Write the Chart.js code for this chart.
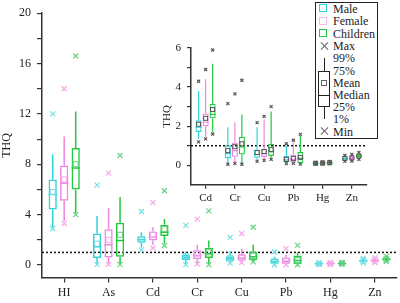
<!DOCTYPE html>
<html lang="en">
<head>
<meta charset="UTF-8">
<title>THQ box plot</title>
<script src="https://cdn.jsdelivr.net/npm/chart.js"></script>
<style>
  body { margin: 0; background: #fff; }
  .wrap { position: relative; width: 400px; height: 303px; overflow: hidden; font-family: "Liberation Serif", "Times New Roman", serif; }
  #mainChart { position: absolute; left: 0; top: 0; }
  #insetChart { position: absolute; left: 150px; top: 30px; }
  .legend { position: absolute; left: 315px; top: 2px; width: 61px; height: 135px; border: 1px solid #222; background: #fff; }
  .legend .txt { position: absolute; left: 17px; font-size: 12px; line-height: 12px; color: #222; white-space: nowrap; }
  .legend .sq { position: absolute; left: 3px; width: 6px; height: 6px; border: 1.5px solid; }
  .legend .cross { position: absolute; left: 4px; width: 8px; height: 8px; }
  .legend .cross::before, .legend .cross::after { content: ""; position: absolute; left: 3.5px; top: -1px; width: 1px; height: 10px; background: #666; }
  .legend .cross::before { transform: rotate(45deg); }
  .legend .cross::after { transform: rotate(-45deg); }
  .legend .whisker { position: absolute; left: 7.5px; top: 55px; width: 1.2px; height: 61px; background: #222; }
  .legend .box { position: absolute; left: 2px; top: 68px; width: 10px; height: 34px; border: 1.2px solid #222; background: #fff; }
  .legend .med { position: absolute; left: 2px; top: 92px; width: 12px; height: 1.2px; background: #222; }
  .legend .mean { position: absolute; left: 5px; top: 77px; width: 4px; height: 4px; border: 1px solid #666; }
</style>
</head>
<body>
<div class="wrap">
  <canvas id="mainChart" width="400" height="303"></canvas>
  <canvas id="insetChart" width="225" height="178"></canvas>
  <div class="legend">
    <div class="sq" style="top:1px;border-color:#2fd3d6"></div><div class="txt" style="top:0px">Male</div>
    <div class="sq" style="top:13.5px;border-color:#f2b6ea"></div><div class="txt" style="top:12px">Female</div>
    <div class="sq" style="top:26px;border-color:#22c93f"></div><div class="txt" style="top:24.5px">Children</div>
    <div class="cross" style="top:39px"></div><div class="txt" style="top:37px">Max</div>
    <div class="whisker"></div><div class="box"></div><div class="med"></div><div class="mean"></div>
    <div class="txt" style="top:49px">99%</div>
    <div class="txt" style="top:61.5px">75%</div>
    <div class="txt" style="top:73.5px">Mean</div>
    <div class="txt" style="top:86px">Median</div>
    <div class="txt" style="top:98px">25%</div>
    <div class="txt" style="top:110px">1%</div>
    <div class="cross" style="top:124px"></div><div class="txt" style="top:122.5px">Min</div>
  </div>
</div>

<script>
    const mainLabels = ['HI', 'As', 'Cd', 'Cr', 'Cu', 'Pb', 'Hg', 'Zn'];
    const insetLabels = ['Cd', 'Cr', 'Cu', 'Pb', 'Hg', 'Zn'];

    // each row: min, 1%, 25%, median, mean, 75%, 99%, max
    const mainMale = [
        [2.9, 3.0, 4.4, 5.6, 5.8, 6.8, 8.8, 12.0],
        [0.05, 0.1, 0.55, 1.45, 1.7, 2.5, 3.9, 6.35],
        [1.2, 1.4, 1.77, 2.0, 2.05, 2.28, 2.6, 4.25],
        [0.03, 0.08, 0.4, 0.6, 0.7, 0.8, 1.05, 3.15],
        [0.15, 0.2, 0.3, 0.5, 0.55, 0.7, 1.1, 2.2],
        [0.02, 0.05, 0.1, 0.25, 0.3, 0.5, 0.65, 1.05],
        [0.05, 0.06, 0.08, 0.1, 0.1, 0.13, 0.15, 0.17],
        [0.18, 0.2, 0.27, 0.33, 0.34, 0.4, 0.48, 0.52]
    ];
    const mainFemale = [
        [3.3, 3.5, 5.1, 6.5, 6.8, 7.9, 10.2, 14.0],
        [0.05, 0.1, 0.6, 1.6, 2.0, 2.85, 4.5, 7.3],
        [1.35, 1.6, 1.95, 2.2, 2.4, 2.67, 3.0, 4.95],
        [0.08, 0.15, 0.45, 0.75, 0.9, 1.18, 1.6, 3.65],
        [0.2, 0.25, 0.35, 0.55, 0.65, 0.85, 1.3, 2.5],
        [0.02, 0.05, 0.1, 0.3, 0.35, 0.6, 0.8, 1.3],
        [0.06, 0.07, 0.09, 0.11, 0.11, 0.14, 0.16, 0.18],
        [0.2, 0.22, 0.3, 0.36, 0.37, 0.43, 0.52, 0.56]
    ];
    const mainChildren = [
        [4.0, 4.1, 6.0, 7.7, 8.0, 9.3, 12.2, 16.6],
        [0.05, 0.1, 0.65, 1.95, 2.4, 3.35, 5.4, 8.7],
        [1.55, 1.7, 2.3, 2.6, 2.85, 3.2, 3.65, 5.9],
        [0.03, 0.05, 0.55, 0.9, 1.0, 1.38, 1.95, 4.3],
        [0.25, 0.3, 0.4, 0.65, 0.75, 1.05, 1.6, 3.0],
        [0.02, 0.05, 0.08, 0.35, 0.4, 0.75, 1.0, 1.56],
        [0.07, 0.08, 0.1, 0.12, 0.13, 0.16, 0.18, 0.2],
        [0.28, 0.3, 0.38, 0.45, 0.46, 0.52, 0.62, 0.68]
    ];

    const insetMale = [
        [1.2, 1.35, 1.7, 1.95, 2.1, 2.3, 3.8, 4.3],
        [0.05, 0.1, 0.37, 0.6, 0.75, 1.02, 1.95, 3.15],
        [0.2, 0.25, 0.39, 0.55, 0.65, 0.8, 1.95, 2.18],
        [0.08, 0.1, 0.17, 0.28, 0.3, 0.48, 1.0, 1.1],
        [0.06, 0.07, 0.08, 0.1, 0.1, 0.12, 0.14, 0.15],
        [0.2, 0.22, 0.28, 0.34, 0.35, 0.4, 0.48, 0.5]
    ];
    const insetFemale = [
        [1.35, 1.45, 2.0, 2.2, 2.4, 2.65, 4.4, 4.9],
        [0.1, 0.15, 0.43, 0.75, 0.95, 1.16, 2.2, 3.65],
        [0.25, 0.3, 0.42, 0.6, 0.7, 0.85, 2.35, 2.5],
        [0.1, 0.12, 0.15, 0.3, 0.35, 0.55, 1.15, 1.28],
        [0.07, 0.08, 0.09, 0.11, 0.11, 0.13, 0.15, 0.17],
        [0.22, 0.25, 0.32, 0.37, 0.38, 0.44, 0.52, 0.55]
    ];
    const insetChildren = [
        [1.6, 1.7, 2.4, 2.6, 2.85, 3.15, 5.2, 5.9],
        [0.05, 0.1, 0.55, 0.94, 1.1, 1.45, 2.6, 4.35],
        [0.3, 0.35, 0.48, 0.7, 0.8, 1.1, 2.75, 3.0],
        [0.06, 0.08, 0.1, 0.35, 0.4, 0.68, 1.5, 1.58],
        [0.08, 0.09, 0.1, 0.12, 0.13, 0.15, 0.17, 0.19],
        [0.3, 0.33, 0.4, 0.46, 0.47, 0.53, 0.62, 0.66]
    ];

    const mainYTicks = [0, 2, 4, 6, 8, 10, 12, 14, 16, 18, 20];
    const insetYTicks = [0, 1, 2, 3, 4, 5, 6];
    const limitLine = 1;

    const seriesNames = ['Male', 'Female', 'Children'];
    const lineColors = ['#2fd3d6', '#ee86e2', '#22c93f'];
    const markColors = ['#74dfe4', '#f3a9ea', '#66d184'];

    Chart.defaults.font.family = '"Liberation Serif", "Times New Roman", serif';
    Chart.defaults.color = '#222';

    // draws whiskers, median, mean and min/max for each floating bar (the box)
    const boxPlot = {
        id: 'boxPlot',
        beforeDatasetsDraw(chart, args, o) {
            const { ctx, chartArea, scales: { y } } = chart;
            const py = y.getPixelForValue(limitLine);
            ctx.save();
            ctx.setLineDash([2, 2]);
            ctx.strokeStyle = '#111';
            ctx.lineWidth = o.refWidth;
            ctx.beginPath();
            ctx.moveTo(chartArea.left, py);
            ctx.lineTo(chartArea.right, py);
            ctx.stroke();
            ctx.restore();
        },
        afterDatasetsDraw(chart, args, o) {
            const { ctx, scales: { y } } = chart;
            chart.data.datasets.forEach((ds, i) => {
                chart.getDatasetMeta(i).data.forEach((bar, j) => {
                    const [min, p1, q1, med, mean, q3, p99, max] = ds.stats[j].map(v => y.getPixelForValue(v));
                    const x = bar.x, hw = bar.width / 2;
                    ctx.save();
                    ctx.strokeStyle = ds.borderColor;
                    ctx.lineWidth = o.lineWidth;
                    ctx.beginPath();
                    ctx.moveTo(x, q3); ctx.lineTo(x, p99);
                    ctx.moveTo(x, q1); ctx.lineTo(x, p1);
                    ctx.moveTo(x - hw, med); ctx.lineTo(x + hw, med);
                    ctx.stroke();

                    ctx.strokeStyle = o.markColor || markColors[i];
                    ctx.lineWidth = 1;
                    const s = o.meanSize;
                    ctx.strokeRect(x - s / 2, mean - s / 2, s, s);

                    const r = o.crossSize;
                    ctx.lineWidth = o.crossWidth;
                    ctx.beginPath();
                    [max, min].forEach(py => {
                        ctx.moveTo(x - r, py - r); ctx.lineTo(x + r, py + r);
                        ctx.moveTo(x - r, py + r); ctx.lineTo(x + r, py - r);
                    });
                    ctx.stroke();
                    ctx.restore();
                });
            });
        }
    };

    function makeChart(id, labels, groups, cfg) {
        const datasets = groups.map((rows, i) => ({
            label: seriesNames[i],
            data: rows.map(r => [r[2], r[5]]),
            stats: rows,
            backgroundColor: 'rgba(0,0,0,0)',
            borderColor: lineColors[i],
            borderWidth: cfg.lineWidth,
            borderSkipped: false,
            categoryPercentage: cfg.catPct,
            barPercentage: cfg.barPct
        }));

        return new Chart(document.getElementById(id), {
            type: 'bar',
            data: { labels, datasets },
            options: {
                responsive: false,
                animation: false,
                events: [],
                layout: { padding: cfg.padding },
                plugins: {
                    legend: { display: false },
                    tooltip: { enabled: false },
                    boxPlot: cfg.plot
                },
                scales: {
                    x: {
                        ticks: { padding: cfg.xPad, font: { size: cfg.fontSize } },
                        grid: { offset: false, drawOnChartArea: false, tickLength: cfg.tickLen, color: '#333', lineWidth: 1.2 },
                        border: { color: '#333', width: 1.5 }
                    },
                    y: {
                        min: cfg.yMin,
                        max: cfg.yMax,
                        afterBuildTicks: s => { s.ticks = cfg.yTicks.map(v => ({ value: v })); },
                        afterFit: s => { s.width = cfg.yWidth; },
                        ticks: {
                            padding: 6,
                            font: { size: cfg.fontSize },
                            callback: v => v % cfg.labelStep === 0 ? v : ''
                        },
                        grid: { drawOnChartArea: false, tickLength: cfg.tickLen, color: '#333', lineWidth: 1.2 },
                        border: { color: '#333', width: 1.5 },
                        title: { display: true, text: 'THQ', padding: { top: cfg.titlePad, bottom: 0 }, font: { size: cfg.fontSize } }
                    }
                }
            },
            plugins: [boxPlot]
        });
    }

    makeChart('mainChart', mainLabels, [mainMale, mainFemale, mainChildren], {
        lineWidth: 1.5, catPct: 0.777, barPct: 0.72,
        padding: { top: 7, right: 3, bottom: 0, left: 0 },
        xPad: 3, fontSize: 12, tickLen: 5,
        yMin: -1, yMax: 20, yTicks: mainYTicks, yWidth: 42, labelStep: 4, titlePad: 0,
        plot: { lineWidth: 1.5, refWidth: 1.5, meanSize: 5, crossSize: 2.5, crossWidth: 1.2 }
    });

    makeChart('insetChart', insetLabels, [insetMale, insetFemale, insetChildren], {
        lineWidth: 1.2, catPct: 0.72, barPct: 0.86,
        padding: { top: 18, right: 8.5, bottom: 0, left: 0 },
        xPad: 3, fontSize: 11, tickLen: 4,
        yMin: -1, yMax: 6, yTicks: insetYTicks, yWidth: 41, labelStep: 2, titlePad: 11,
        plot: { lineWidth: 1.2, refWidth: 1.5, meanSize: 4, crossSize: 1.5, crossWidth: 1.2, markColor: '#555' }
    });
</script>
</body>
</html>
